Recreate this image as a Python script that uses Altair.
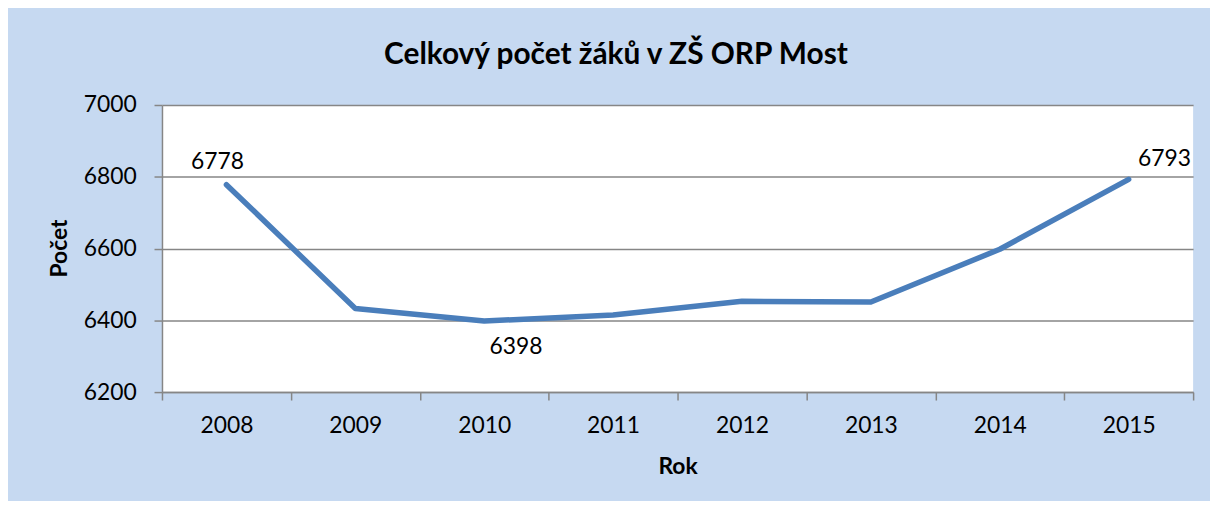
import altair as alt
import pandas as pd

years = ["2008", "2009", "2010", "2011", "2012", "2013", "2014", "2015"]
counts = [6778, 6433, 6398, 6415, 6453, 6451, 6598, 6793]
label_years_up_left = ["2008"]
label_years_down = ["2010"]
label_years_up_right = ["2015"]
y_ticks = [6200, 6400, 6600, 6800, 7000]

df = pd.DataFrame({"Rok": years, "Počet": counts})

FONT = "Lato"
BG = "#C6D9F1"
GRID = "#868686"
LINE = "#4A7EBB"

x = alt.X("Rok:O", scale=alt.Scale(type="band", paddingInner=0, paddingOuter=0),
          axis=alt.Axis(title="Rok", labelAngle=0, tickBand="extent", tickSize=8,
                        tickColor=GRID, domainColor=GRID, domainWidth=1.5, tickWidth=1.5,
                        labelFontSize=23, labelFont=FONT, labelColor="black", labelPadding=15,
                        titleFont=FONT, titleFontSize=23, titleFontWeight="bold", titleColor="black",
                        titleX=519, titleY=75, titleBaseline="middle", titleAlign="center",
                        grid=False))
y = alt.Y("Počet:Q", scale=alt.Scale(domain=[6200, 7000], nice=False, zero=False),
          axis=alt.Axis(title="Počet", values=y_ticks, format="d", tickSize=8, tickColor=GRID,
                        domainColor=GRID, domainWidth=1.5, tickWidth=1.5,
                        gridColor=GRID, gridWidth=1.5, grid=True,
                        labelFontSize=23, labelFont=FONT, labelColor="black", labelPadding=18,
                        titleFont=FONT, titleFontSize=23, titleFontWeight="bold", titleColor="black",
                        titleX=-103, titleY=144, titleBaseline="middle", titleAlign="center",
                        titleAngle=270))

base = alt.Chart(df)
line = base.mark_line(color=LINE, strokeWidth=5.5, strokeCap="round", strokeJoin="round").encode(x=x, y=y)

def labels(sel, dx, dy):
    return base.transform_filter(alt.FieldOneOfPredicate(field="Rok", oneOf=sel)).mark_text(
        font=FONT, fontSize=23, color="black", dx=dx, dy=dy, baseline="middle", align="center"
    ).encode(x=x, y=y, text=alt.Text("Počet:Q", format="d"))

chart = alt.layer(
    line,
    labels(label_years_up_left, -9, -23),
    labels(label_years_down, 32, 26),
    labels(label_years_up_right, 36, -20),
).properties(
    width=1038, height=289,
    title=alt.TitleParams("Celkový počet žáků v ZŠ ORP Most", font=FONT, fontSize=30,
                          fontWeight="bold", color="black", anchor="middle", dx=-62,
                          offset=9, baseline="middle"),
    autosize=alt.AutoSizeParams(type="none"),
    padding={"left": 155, "top": 96, "right": 17, "bottom": 108},
    background=BG,
).configure_view(fill="white", stroke=None)

chart.save("out.html", embed_options={"renderer": "svg", "actions": False})
